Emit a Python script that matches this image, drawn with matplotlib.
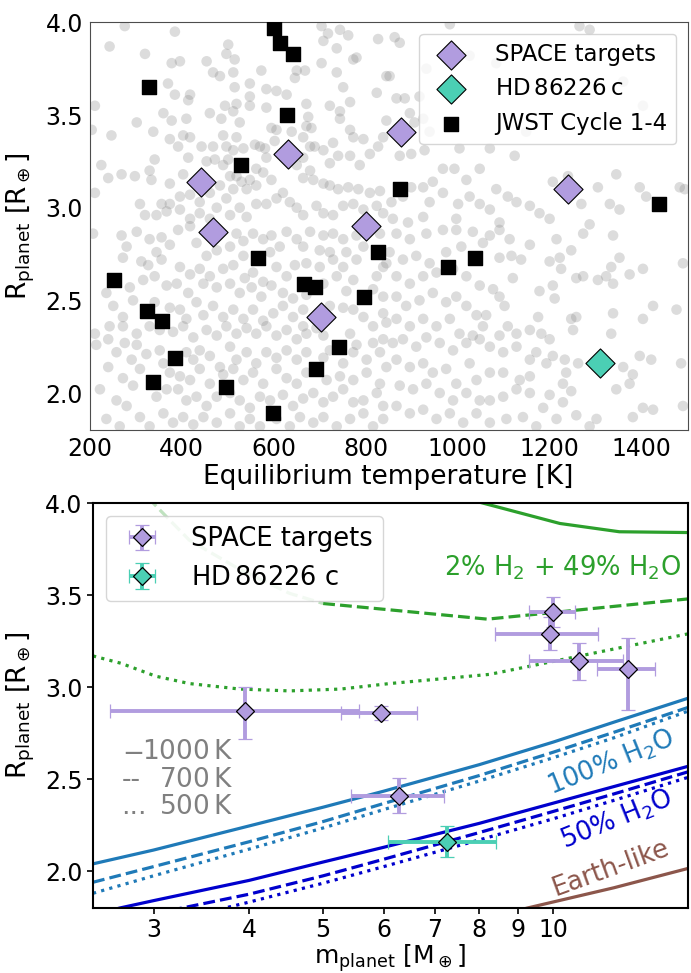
import matplotlib
matplotlib.use("Agg")
import matplotlib.pyplot as plt
import matplotlib.ticker as mticker

# ---- top panel: known planets (grey) ----
field_teq = [
    276, 385, 243, 320, 378, 396, 454, 501, 497, 515, 468, 483, 512, 548, 573, 584, 606, 515, 370, 385,
    418, 414, 211, 360, 378, 410, 461, 494, 486, 519, 512, 526, 548, 548, 584, 628, 650, 646, 668, 671,
    675, 671, 682, 704, 708, 704, 718, 744, 762, 737, 737, 773, 780, 827, 845, 824, 751, 722, 744, 766,
    744, 845, 766, 773, 795, 838, 302, 338, 247, 204, 374, 403, 418, 392, 414, 443, 468, 490, 497, 512,
    519, 534, 559, 570, 581, 602, 595, 606, 639, 664, 679, 689, 708, 729, 740, 766, 787, 809, 827, 722,
    664, 650, 679, 664, 686, 708, 722, 740, 762, 784, 809, 831, 225, 240, 269, 298, 330, 334, 341, 374,
    403, 454, 472, 501, 490, 505, 519, 530, 548, 562, 577, 584, 595, 562, 541, 512, 497, 483, 461, 439,
    418, 396, 374, 356, 309, 211, 320, 345, 367, 396, 418, 439, 461, 476, 505, 526, 541, 562, 584, 606,
    620, 635, 650, 664, 693, 708, 729, 751, 773, 795, 824, 838,
    863, 874, 983, 1265, 1287, 852, 867, 885, 896, 906, 917, 925, 874, 899, 928, 1004, 1070, 1124, 968, 993,
    1019, 1048, 946, 925, 899, 881, 856, 968, 939, 1001, 1026, 1048, 1084, 1109, 1070, 1128, 1157, 1178, 1200, 1207,
    1240, 1269, 1305, 1345, 1331, 1352, 1396, 1410, 1483, 1494, 859, 925, 997, 1091, 1287, 892, 932, 1026, 1084, 1360,
    1403, 1149, 939,
    207, 269, 302, 330, 356, 392, 418, 519, 534, 555, 577, 595, 628, 650, 679, 708, 729, 751, 780, 831,
    280, 345, 374, 432, 454, 476, 505, 534, 592, 613, 664, 700, 722, 758, 795, 845, 272, 312, 327, 356,
    396, 418, 439, 461, 490, 512, 537, 555, 577, 606, 628, 646, 671, 700, 729, 751, 780, 824, 838, 236,
    287, 316, 341, 367, 389, 414, 447, 476, 505, 526, 552, 573, 595, 620, 642, 671, 708, 737, 758, 773,
    816, 838, 251, 272, 294, 211, 341, 374, 396, 410, 432, 447, 468, 490, 512, 534, 555, 577, 599, 620,
    642, 664, 664, 693, 722, 751, 773, 795, 816, 838, 845, 243, 272, 302, 330, 352, 381, 403, 425, 454,
    476, 497, 519, 541, 562, 584, 606, 628, 650, 671, 708, 766, 780, 816, 838, 214, 240, 258, 276, 302,
    291, 323, 352, 360, 410, 425, 439, 461, 483, 505, 519, 541, 562, 584, 606, 628, 650, 671, 708, 722,
    751, 773, 802, 831, 845, 240, 272, 309, 374, 396, 418, 439, 461, 490, 512, 534, 555, 577, 606, 628,
    650, 671, 715, 744, 773, 802, 831, 222, 258, 294, 280, 309, 345, 367, 392, 410, 432, 454, 476, 505,
    526, 548, 570, 592, 620, 642, 664, 686, 708, 729, 751, 773, 795, 824, 838, 236, 265, 330, 360, 381,
    403, 425, 447, 476, 505, 526, 548, 570, 606, 635, 657, 686, 708, 737, 766, 795, 816, 838,
    867, 896, 932, 968, 997, 1033, 1070, 1091, 1113, 1157, 1215, 1247, 1273, 1338, 852, 881, 910, 939, 975, 1008,
    1055, 1091, 1117, 1138, 1200, 1222, 1225, 1258, 1273, 1305, 1323, 1334, 1352, 1374, 1403, 1490, 1338, 867, 896, 925,
    954, 990, 1019, 1048, 1077, 1091, 1120, 1178, 1207, 1211, 867, 888, 917, 946, 975, 997, 1019, 1041, 1062, 1102,
    1175, 1247, 1258, 1251, 1338, 1403, 1425, 1476, 867, 896, 925, 954, 983, 1004, 1033, 1055, 1091, 1109, 1128, 1157,
    1182, 1200, 1334, 859, 881, 910, 932, 961, 990, 1019, 1048, 1070, 1099, 1128, 1157, 1171, 1193, 1207, 1233, 1262,
    1360, 1381, 1374, 1396, 1421, 1486, 867, 896, 925, 946, 975, 997, 1026, 1041, 1070, 1099, 1135, 1157, 1236, 1229,
    1247, 1345, 874, 903, 932, 961, 990, 1019, 1048, 1070, 1099, 1128, 1157, 1186, 1200, 1229, 1258, 1302, 1381, 1403,
    1425, 1490, 867, 896, 925, 954, 983, 1012, 1041, 1070, 1106, 1142, 1171, 1215, 1287,
]
field_rp = [
    3.98, 3.95, 3.87, 3.83, 3.78, 3.79, 3.79, 3.88, 3.83, 3.80, 3.73, 3.71, 3.73, 3.67, 3.74, 3.64, 3.63, 3.65, 3.67, 3.61,
    3.61, 3.58, 3.55, 3.51, 3.47, 3.48, 3.51, 3.55, 3.48, 3.56, 3.52, 3.46, 3.60, 3.55, 3.54, 3.61, 3.74, 3.70, 3.74, 3.56,
    3.49, 3.44, 3.43, 3.78, 3.90, 3.98, 3.94, 3.96, 3.93, 3.86, 3.73, 3.80, 3.81, 3.91, 3.71, 3.62, 3.65, 3.55, 3.52, 3.57,
    3.48, 3.47, 3.42, 3.38, 3.37, 3.38, 3.46, 3.41, 3.39, 3.42, 3.37, 3.39, 3.38, 3.33, 3.27, 3.33, 3.33, 3.39, 3.33, 3.31,
    3.38, 3.32, 3.34, 3.33, 3.32, 3.36, 3.43, 3.42, 3.41, 3.38, 3.33, 3.33, 3.31, 3.35, 3.28, 3.28, 3.23, 3.29, 3.33, 3.24,
    3.27, 3.23, 3.20, 3.16, 3.15, 3.13, 3.12, 3.10, 3.11, 3.10, 3.08, 3.09, 3.23, 3.16, 3.18, 3.17, 3.20, 3.15, 3.26, 3.13,
    3.18, 3.25, 3.26, 3.26, 3.23, 3.17, 3.17, 3.14, 3.15, 3.21, 3.19, 3.27, 3.15, 3.12, 3.10, 3.10, 3.05, 3.12, 3.08, 3.03,
    3.07, 3.06, 3.02, 3.02, 3.02, 3.08, 2.96, 2.96, 2.98, 2.99, 2.94, 2.97, 2.94, 3.00, 2.96, 3.00, 2.95, 3.02, 3.02, 3.05,
    3.08, 3.03, 3.00, 2.96, 3.01, 2.97, 2.96, 3.01, 3.02, 2.99, 3.01, 2.97,
    3.92, 3.89, 3.99, 3.98, 3.96, 3.71, 3.59, 3.59, 3.51, 3.46, 3.60, 3.48, 3.28, 3.29, 3.31, 3.32, 3.32, 3.28, 3.21, 3.21,
    3.15, 3.21, 3.14, 3.11, 3.11, 3.06, 3.03, 3.08, 3.03, 3.02, 3.06, 3.02, 3.10, 3.06, 2.99, 3.03, 3.01, 2.97, 2.94, 3.14,
    3.17, 3.02, 3.11, 3.18, 3.02, 2.99, 3.11, 3.06, 3.11, 3.10, 2.94, 2.95, 2.94, 2.92, 2.91, 2.92, 3.75, 3.82, 3.78, 3.68,
    3.55, 3.41, 3.41,
    2.86, 2.85, 2.87, 2.83, 2.84, 2.88, 2.90, 2.86, 2.82, 2.86, 2.83, 2.85, 2.87, 2.83, 2.87, 2.85, 2.86, 2.83, 2.85, 2.86,
    2.79, 2.76, 2.80, 2.81, 2.74, 2.77, 2.79, 2.74, 2.76, 2.79, 2.79, 2.77, 2.76, 2.76, 2.79, 2.70, 2.73, 2.71, 2.69, 2.72,
    2.68, 2.64, 2.67, 2.63, 2.67, 2.69, 2.62, 2.65, 2.60, 2.68, 2.63, 2.69, 2.70, 2.68, 2.72, 2.68, 2.72, 2.63, 2.68, 2.54,
    2.57, 2.61, 2.63, 2.58, 2.59, 2.54, 2.59, 2.57, 2.59, 2.54, 2.57, 2.52, 2.58, 2.54, 2.51, 2.53, 2.59, 2.63, 2.55, 2.61,
    2.56, 2.52, 2.47, 2.41, 2.50, 2.32, 2.49, 2.46, 2.45, 2.40, 2.49, 2.42, 2.47, 2.41, 2.45, 2.40, 2.45, 2.39, 2.43, 2.47,
    2.41, 2.45, 2.36, 2.35, 2.47, 2.46, 2.45, 2.41, 2.36, 2.43, 2.38, 2.36, 2.36, 2.32, 2.36, 2.34, 2.33, 2.36, 2.30, 2.34,
    2.31, 2.36, 2.32, 2.35, 2.32, 2.36, 2.31, 2.34, 2.29, 2.32, 2.31, 2.32, 2.26, 2.27, 2.29, 2.26, 2.29, 2.22, 2.27, 2.26,
    2.18, 2.21, 2.23, 2.16, 2.22, 2.18, 2.23, 2.20, 2.14, 2.25, 2.18, 2.22, 2.16, 2.22, 2.19, 2.23, 2.18, 2.22, 2.19, 2.23,
    2.16, 2.22, 2.18, 2.22, 2.14, 2.14, 2.08, 2.13, 2.11, 2.09, 2.07, 2.13, 2.05, 2.10, 2.13, 2.07, 2.11, 2.05, 2.13, 2.08,
    2.05, 2.11, 2.07, 2.09, 2.07, 2.11, 2.05, 2.02, 1.96, 2.04, 1.93, 1.87, 1.98, 2.02, 2.02, 1.96, 1.98, 1.93, 1.98, 2.00,
    1.96, 1.92, 1.98, 1.96, 1.99, 1.93, 1.97, 2.00, 1.95, 1.98, 2.02, 1.95, 1.96, 2.00, 1.93, 1.86, 1.82, 1.82, 1.89, 1.84,
    1.87, 1.83, 1.87, 1.84, 1.89, 1.82, 1.86, 1.82, 1.86, 1.82, 1.87, 1.84, 1.87, 1.82, 1.86, 1.89, 1.82, 1.86,
    2.86, 2.83, 2.86, 2.88, 2.88, 2.87, 2.85, 2.88, 2.83, 2.80, 2.83, 2.77, 2.86, 2.85, 2.76, 2.72, 2.74, 2.70, 2.76, 2.79,
    2.81, 2.73, 2.74, 2.72, 2.71, 2.73, 2.67, 2.62, 2.63, 2.61, 2.63, 2.68, 2.73, 2.64, 2.67, 2.70, 2.59, 2.63, 2.59, 2.63,
    2.65, 2.67, 2.63, 2.58, 2.56, 2.52, 2.62, 2.55, 2.58, 2.51, 2.52, 2.47, 2.50, 2.54, 2.49, 2.52, 2.47, 2.42, 2.42, 2.47,
    2.41, 2.40, 2.41, 2.34, 2.43, 2.40, 2.47, 2.45, 2.40, 2.36, 2.40, 2.36, 2.40, 2.32, 2.31, 2.36, 2.31, 2.36, 2.32, 2.34,
    2.32, 2.29, 2.32, 2.27, 2.29, 2.25, 2.30, 2.27, 2.23, 2.27, 2.29, 2.25, 2.22, 2.25, 2.18, 2.22, 2.16, 2.20, 2.18, 2.16,
    2.14, 2.10, 2.05, 2.20, 2.18, 2.16, 2.18, 2.14, 2.16, 2.11, 2.13, 2.05, 2.16, 2.07, 2.11, 2.11, 2.07, 2.09, 2.11, 2.05,
    2.01, 2.02, 2.04, 2.02, 2.05, 2.00, 1.96, 2.00, 1.96, 1.96, 1.98, 2.02, 2.00, 1.92, 1.99, 1.95, 1.88, 1.86, 1.87, 1.92,
    1.91, 1.93, 1.93, 1.89, 1.91, 1.86, 1.89, 1.84, 1.89, 1.84, 1.86, 1.87, 1.82, 1.86, 1.82,
]

jwst_teq = [600, 613, 641, 328, 628, 528, 874, 1439, 565, 826, 980, 1037, 252, 665, 689, 796, 324, 357, 741, 385,
            691, 337, 496, 598]
jwst_rp = [3.97, 3.89, 3.83, 3.65, 3.50, 3.23, 3.10, 3.02, 2.73, 2.76, 2.68, 2.73, 2.61, 2.59, 2.57, 2.52, 2.44,
           2.39, 2.25, 2.19, 2.13, 2.06, 2.03, 1.89]

space_teq = [876, 630, 441, 1239, 800, 467, 702]
space_rp = [3.41, 3.29, 3.14, 3.10, 2.90, 2.87, 2.41]
hd_teq = [1309]
hd_rp = [2.16]

# ---- bottom panel: masses / radii of targets ----
space_mass = [10.0, 9.91, 10.81, 12.53, 3.95, 5.95, 6.29]
space_mass_lo = [0.70, 1.53, 1.51, 1.12, 1.32, 0.67, 0.86]
space_mass_hi = [0.68, 1.52, 1.52, 1.04, 1.62, 0.69, 0.90]
space_r = [3.41, 3.29, 3.14, 3.10, 2.87, 2.86, 2.41]
space_r_lo = [0.08, 0.09, 0.10, 0.225, 0.15, 0.04, 0.095]
space_r_hi = [0.08, 0.09, 0.10, 0.165, 0.13, 0.04, 0.095]
hd_mass = [7.26]
hd_mass_lo = [1.19]
hd_mass_hi = [1.15]
hd_r = [2.16]
hd_r_err = [0.085]

# ---- model mass-radius curves ----
grid_m = [2.5, 3, 4, 5, 6, 8, 10, 12, 15]
w100_1000 = [2.04, 2.115, 2.246, 2.348, 2.435, 2.579, 2.702, 2.81, 2.94]
w100_700 = [1.94, 2.025, 2.16, 2.27, 2.368, 2.52, 2.647, 2.755, 2.89]
w100_500 = [1.88, 1.975, 2.12, 2.235, 2.335, 2.49, 2.617, 2.725, 2.87]
w50_1000_m = [2.5, 2.71, 3, 4, 5, 6, 8, 10, 12, 15]
w50_1000 = [1.76, 1.80, 1.84, 1.95, 2.05, 2.13, 2.26, 2.37, 2.46, 2.57]
w50_700_m = [3.0, 3.27, 4, 5, 6, 8, 10, 12, 15]
w50_700 = [1.77, 1.80, 1.875, 1.975, 2.065, 2.21, 2.325, 2.42, 2.54]
w50_500_m = [3.4, 3.72, 4, 5, 6, 8, 10, 12, 15]
w50_500 = [1.76, 1.80, 1.832, 1.935, 2.025, 2.17, 2.285, 2.385, 2.51]
earth_m = [8.5, 9.25, 12, 15]
earth_r = [1.76, 1.80, 1.91, 2.015]
h2_1000_m = [7.0, 10.2, 12.2, 15.5]
h2_1000 = [4.07, 3.89, 3.845, 3.84]
h2_700_faint_m = [2.95, 3.34, 3.89, 4.52, 5.0]
h2_700_faint = [4.03, 3.80, 3.64, 3.51, 3.455]
h2_700_m = [5.0, 8.2, 15.0]
h2_700 = [3.455, 3.37, 3.48]
h2_500_m = [2.5, 2.72, 3.02, 3.34, 3.89, 4.52, 5.27, 6.11, 8.26, 15.0]
h2_500 = [3.17, 3.13, 3.06, 3.02, 2.99, 2.98, 2.99, 3.02, 3.07, 3.29]

mass_ticks = [3, 4, 5, 6, 7, 8, 9, 10]

PURPLE = "#b19cdf"
TEAL = "#4bcfb4"
C100 = "#1f7ab8"
C50 = "#0000cd"
CEARTH = "#8c564b"
CH2 = "#2ca02c"

fig = plt.figure(figsize=(6.91, 9.73), dpi=100)

# ---------------- top panel ----------------
ax1 = fig.add_axes([0.130, 0.558, 0.865, 0.419])
ax1.scatter(field_teq, field_rp, s=58, color="grey", alpha=0.27, edgecolors="none", zorder=1)
ax1.scatter(space_teq, space_rp, marker="D", s=220, facecolor=PURPLE, edgecolor="black", linewidth=0.8,
            zorder=4, label="SPACE targets")
ax1.scatter(hd_teq, hd_rp, marker="D", s=220, facecolor=TEAL, edgecolor="black", linewidth=0.8,
            zorder=4, label="HD$\\,$86226$\\,$c")
ax1.scatter(jwst_teq, jwst_rp, marker="s", s=100, color="black", zorder=3, label="JWST Cycle 1-4")
ax1.set_xlim(200, 1500)
ax1.set_ylim(1.8, 4.0)
ax1.set_xticks([200, 400, 600, 800, 1000, 1200, 1400])
ax1.set_yticks([2.0, 2.5, 3.0, 3.5, 4.0])
ax1.tick_params(labelsize=17, length=0, pad=5)
for sp in ax1.spines.values():
    sp.set_color("0.3")
ax1.set_xlabel("Equilibrium temperature [K]", fontsize=19, labelpad=2)
ax1.set_ylabel("R$_{\\rm planet}$ [R$_\\oplus$]", fontsize=19)
ax1.yaxis.set_label_coords(-0.088, 0.5)
ax1.legend(loc="upper right", fontsize=16.5, handletextpad=0.9)

# ---------------- bottom panel ----------------
ax2 = fig.add_axes([0.1346, 0.0668, 0.861, 0.416])
ax2.set_xscale("log")

ax2.plot(grid_m, w100_1000, color=C100, lw=2.3, ls="-")
ax2.plot(grid_m, w100_700, color=C100, lw=2.3, ls="--")
ax2.plot(grid_m, w100_500, color=C100, lw=2.3, ls=":")
ax2.plot(w50_1000_m, w50_1000, color=C50, lw=2.3, ls="-")
ax2.plot(w50_700_m, w50_700, color=C50, lw=2.3, ls="--")
ax2.plot(w50_500_m, w50_500, color=C50, lw=2.3, ls=":")
ax2.plot(earth_m, earth_r, color=CEARTH, lw=2.3, ls="-")
ax2.plot(h2_1000_m, h2_1000, color=CH2, lw=2.3, ls="-")
ax2.plot(h2_700_faint_m, h2_700_faint, color=CH2, lw=2.3, ls="--", alpha=0.3)
ax2.plot(h2_700_m, h2_700, color=CH2, lw=2.3, ls="--")
ax2.plot(h2_500_m, h2_500, color=CH2, lw=2.3, ls=":")

ax2.errorbar(space_mass, space_r, xerr=[space_mass_lo, space_mass_hi], yerr=[space_r_lo, space_r_hi],
             fmt="D", ms=9, mfc=PURPLE, mec="black", mew=0.9, ecolor=PURPLE, elinewidth=2.8,
             capsize=5, capthick=3, zorder=5, label="SPACE targets")
ax2.errorbar(hd_mass, hd_r, xerr=[hd_mass_lo, hd_mass_hi], yerr=hd_r_err,
             fmt="D", ms=9, mfc=TEAL, mec="black", mew=0.9, ecolor=TEAL, elinewidth=2.8,
             capsize=5, capthick=3, zorder=5, label="HD$\\,$86226 c")

ax2.text(14.7, 3.65, "2% H$_2$ + 49% H$_2$O", color=CH2, fontsize=18.5, ha="right", va="center")
ax2.text(11.9, 2.59, "100% H$_2$O", color=C100, fontsize=18.5, ha="center", va="center", rotation=22)
ax2.text(12.1, 2.28, "50% H$_2$O", color=C50, fontsize=18.5, ha="center", va="center", rotation=22)
ax2.text(11.9, 2.015, "Earth-like", color=CEARTH, fontsize=18.5, ha="center", va="center", rotation=20)

for sym, lab, yy in [("$-$", "1000$\\,$K", 0.386), ("--", "700$\\,$K", 0.316), ("...", "500$\\,$K", 0.250)]:
    ax2.text(0.048, yy, sym, color="grey", fontsize=19, ha="left", va="center", transform=ax2.transAxes)
    ax2.text(0.236, yy, lab, color="grey", fontsize=19, ha="right", va="center", transform=ax2.transAxes)

ax2.set_xlim(2.5, 15)
ax2.set_ylim(1.8, 4.0)
ax2.set_xticks(mass_ticks)
ax2.set_xticklabels([str(t) for t in mass_ticks])
ax2.xaxis.set_minor_locator(mticker.NullLocator())
ax2.set_yticks([2.0, 2.5, 3.0, 3.5, 4.0])
ax2.tick_params(labelsize=17, length=4, width=1.2)
for sp in ax2.spines.values():
    sp.set_linewidth(1.5)
ax2.set_xlabel("m$_{\\rm planet}$ [M$_\\oplus$]", fontsize=18, labelpad=0)
ax2.set_ylabel("R$_{\\rm planet}$ [R$_\\oplus$]", fontsize=19)
ax2.yaxis.set_label_coords(-0.094, 0.5)
ax2.legend(loc="upper left", fontsize=18.5, handletextpad=0.9)

fig.savefig("out.png", dpi=100)
